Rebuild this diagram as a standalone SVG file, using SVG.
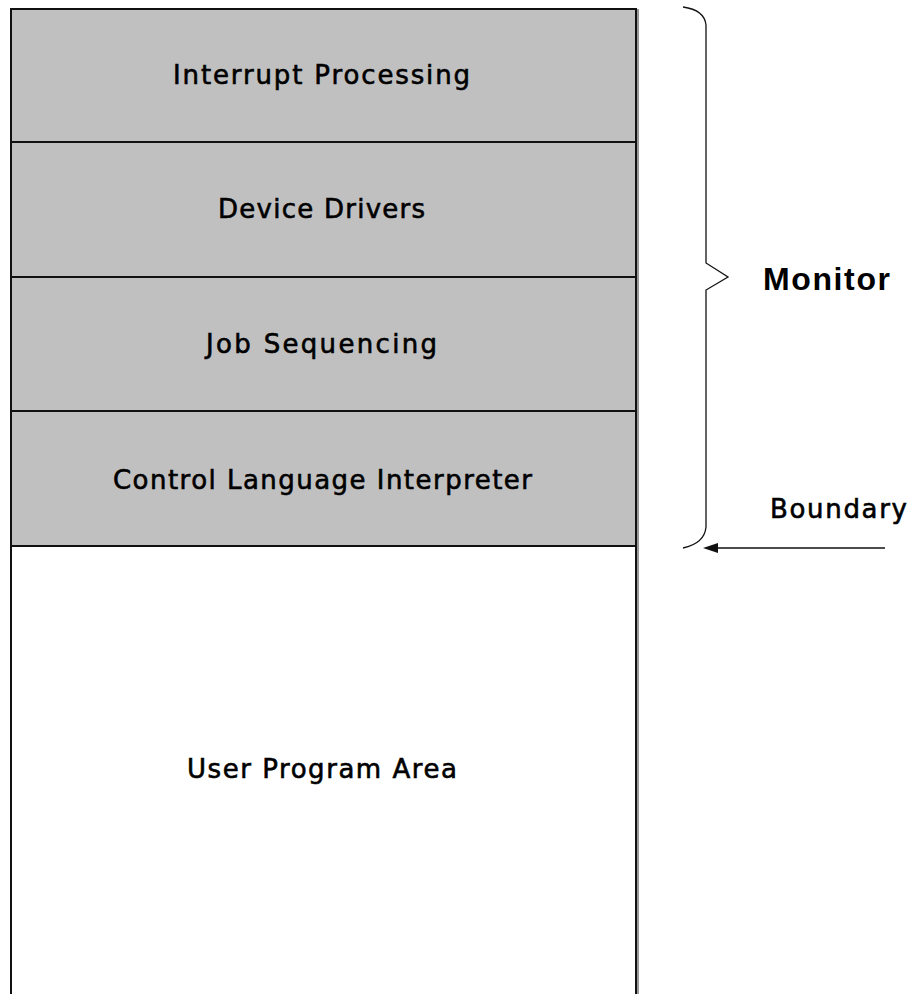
<svg xmlns="http://www.w3.org/2000/svg" width="914" height="994" viewBox="0 0 914 994">
<style>
.box{fill:#c0c0c0;stroke:none}
.edge{stroke:#111;stroke-width:2;fill:none}
.lbl{font-family:"DejaVu Sans","Liberation Sans",sans-serif;font-size:26px;fill:#000;stroke:#000;stroke-width:0.6}
.big{font-family:"Liberation Sans",Arial,sans-serif;font-size:32px;font-weight:bold;fill:#000}
</style>
<rect width="914" height="994" fill="#fff"/>
<g id="interrupt-processing">
<rect class="box" x="11" y="9" width="625" height="133"/>
<text class="lbl" x="173" y="84" textLength="297" lengthAdjust="spacing">Interrupt Processing</text>
</g>
<g id="device-drivers">
<rect class="box" x="11" y="142" width="625" height="135"/>
<text class="lbl" x="218" y="218" textLength="207" lengthAdjust="spacing">Device Drivers</text>
</g>
<g id="job-sequencing">
<rect class="box" x="11" y="277" width="625" height="134"/>
<text class="lbl" x="206" y="353" textLength="231" lengthAdjust="spacing">Job Sequencing</text>
</g>
<g id="control-language-interpreter">
<rect class="box" x="11" y="411" width="625" height="135"/>
<text class="lbl" x="113" y="489" textLength="419" lengthAdjust="spacing">Control Language Interpreter</text>
</g>
<g id="user-program-area">
<rect x="11" y="546" width="625" height="448" fill="#fff"/>
<text class="lbl" x="187" y="778" textLength="270" lengthAdjust="spacing">User Program Area</text>
</g>
<g id="frame">
<line x1="638" y1="9" x2="638" y2="994" stroke="#999" stroke-width="2"/>
<path class="edge" d="M11,994 L11,9 L636,9 L636,994"/>
<line class="edge" x1="11" y1="142" x2="636" y2="142"/>
<line class="edge" x1="11" y1="277" x2="636" y2="277"/>
<line class="edge" x1="11" y1="411" x2="636" y2="411"/>
<line class="edge" x1="11" y1="546" x2="636" y2="546" stroke-width="3"/>
</g>
<g id="monitor">
<text class="big" x="763" y="290" textLength="127" lengthAdjust="spacing">Monitor</text>
</g>
<g id="boundary">
<text class="lbl" x="770" y="518" textLength="137" lengthAdjust="spacing">Boundary</text>
</g>
<g id="connectors">
<path d="M683,7 C697,9 705,15 706,25 L706,263 L728,277 L706,290 L706,527 C705,538 697,545 683,548" fill="none" stroke="#111" stroke-width="1.3"/>
<line x1="885" y1="548" x2="716" y2="548" stroke="#111" stroke-width="1.3"/>
<polygon points="703,548 718,543 718,553" fill="#111"/>
</g>
</svg>
